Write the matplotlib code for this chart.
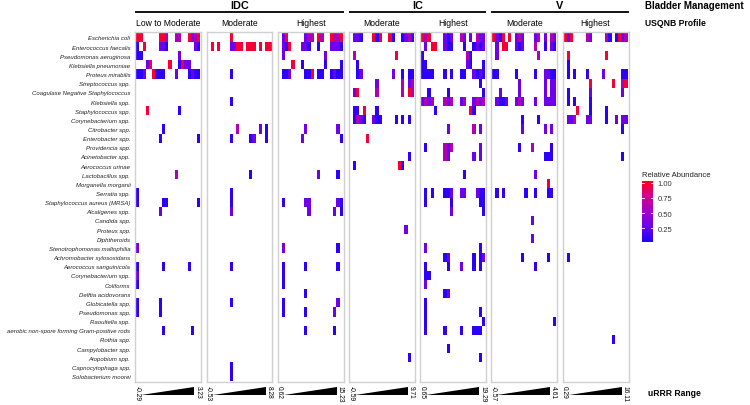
import numpy as np
import matplotlib
matplotlib.use("Agg")
import matplotlib.pyplot as plt
from matplotlib.colors import LinearSegmentedColormap, Normalize
from matplotlib.patches import Polygon

plt.rcParams['font.family'] = ['Liberation Sans', 'DejaVu Sans']

# organisms (rows, top to bottom)
species = [
    "Escherichia coli", "Enterococcus faecalis", "Pseudomonas aeruginosa",
    "Klebsiella pneumoniae", "Proteus mirabilis", "Streptococcus spp.",
    "Coagulase Negative Staphylococcus", "Klebsiella spp.", "Staphylococcus spp.",
    "Corynebacterium spp.", "Citrobacter spp.", "Enterobacter spp.",
    "Providencia spp.", "Acinetobacter spp.", "Aerococcus urinae",
    "Lactobacillus spp.", "Morganella morganii", "Serratia spp.",
    "Staphylococcus aureus (MRSA)", "Alcaligenes spp.", "Candida spp.",
    "Proteus spp.", "Diphtheroids", "Stenotrophomonas maltophilia",
    "Achromobacter xylosoxidans", "Aerococcus sanguinicola", "Corynebacterium spp.",
    "Coliforms", "Delftia acidovorans", "Globicatella spp.", "Pseudomonas spp.",
    "Raoultella spp.", "aerobic non-spore forming Gram-positive rods",
    "Rothia spp.", "Campylobacter spp.", "Atopobium spp.",
    "Capnocytophaga spp.", "Solobacterium moorei",
]

groups = ["IDC", "IC", "V"]
group_panels = [[0, 1, 2], [3, 4], [5, 6]]
profiles = ["Low to Moderate", "Moderate", "Highest", "Moderate", "Highest", "Moderate", "Highest"]
range_low = ["-0.29", "-0.53", "0.62", "-0.59", "0.65", "-0.57", "0.29"]
range_high = ["3.23", "8.28", "15.23", "9.71", "19.29", "4.61", "16.11"]

# relative abundance: b blue, p violet, m magenta, r red
levels = {"b": 0.08, "p": 0.3, "m": 0.6, "r": 0.97}
n_samples = 20

idc_low = {
    0: "rr.....rrm..mm..rpmr", 1: "b.r....ppb........pb", 2: "bb...........p......",
    3: "...pr.....r..brpp...", 4: "bbp..rbbb...p...bpbb", 8: "...r.........b......",
    10: "........b...........", 11: ".......b...........b", 15: "............m.......",
    17: "b...................", 18: "b.......bb.........b", 19: ".......p............",
    23: "p...................", 25: "b.......b.......b...", 26: "p...................",
    27: "b...................", 29: "b......b............", 30: "b......b............",
    32: "........b........b..",
}
idc_mod = {
    0: ".......r............", 1: ".r.r...pprr.rrr.r.rr", 4: ".......b............",
    7: ".......b............", 10: ".........m......p.b.", 11: ".......b.....bp...b.",
    15: ".............b......", 17: ".......b............", 18: ".......b............",
    19: ".......p............", 25: ".......b............", 29: ".......b............",
    36: ".......b............", 37: ".......b............",
}
idc_high = {
    0: ".pr.....pmm.rm..rmmr", 1: ".pbr...ppb..b...pppb", 2: ".p............p.....",
    3: "....r..b......b....b", 4: ".bbp....bbr.bb..bpbb", 10: "........p.........p.",
    11: ".......p...........b", 15: "............p.....b.", 18: ".b......pp........pb",
    19: ".........p.......p.b", 23: ".p................b.", 25: ".b......b.........b.",
    26: ".b..................", 27: ".b..................", 28: "........b...........",
    29: ".b................p.", 30: ".b......b........p..", 32: "........b........b..",
}
ic_mod = {
    0: ".ppb...rbr..rb..bpmb", 2: ".m............r.....", 3: "..b.................",
    4: "..bp.........p..b.bb", 5: "........p.......m.pm", 6: ".pr.....m.......m.rm",
    8: ".bb.r...b...........", 9: ".bmpb..pbb....b.b.b.", 11: ".....r..............",
    13: "..................b.", 14: ".b.............rb...", 21: ".................p..",
    35: "..................b.",
}
ic_high = {
    0: "rmr....pbp..mp.p.mpp", 1: ".p.rr..pbb...b..bpbp", 2: "b.............mb....",
    3: "bb............pb...b", 4: "bbbb...b.b..bb..pbpb", 5: "..................b.",
    6: "..b.....b..........b", 7: "pmpm...mpm..pm..pmpm", 8: "....b..........rb...",
    10: "........p.......m.p.", 12: ".b.....mpm........p.", 13: ".......mp.......p.p.",
    15: ".............b......", 17: ".b.b...bbp..pp...pbb", 18: ".b.......b........bb",
    19: ".........p.........b", 23: ".p................b.", 24: ".......bp.......b.bp",
    25: ".b......b...p...b.b.", 26: ".bb.................", 27: ".p..................",
    28: ".......bp...........", 29: ".b..................", 30: ".b................b.",
    31: ".b.................b", 32: ".b.....b....b...bbb.", 34: "........b...........",
    35: "..................b.",
}
v_mod = {
    0: "rpbr.r.pmp...pm.p.mp", 1: ".p.rr..pbp...m..b.pb", 2: ".p............m.....",
    4: "bb.....b.....b..ppbb", 5: "........p.......p.pp", 6: "..p.....p.......p.pp",
    7: ".pbbp..pmp...p..pppp", 9: ".........b....b.....", 10: ".........p......p.p.",
    12: "........b...m.....b.", 13: "................bbb.", 15: ".............p......",
    16: ".................r..", 17: ".b.b......b..b...bb.", 20: "............p.......",
    22: "............p.......", 24: ".........b.......b..", 25: ".............b......",
    31: "...................b",
}
v_high = {
    0: "rpr....mp....mb.brpm", 2: ".r...........r......", 3: ".b..................",
    4: ".b.b...b....p.....bb", 5: "........r......r..mr", 6: ".b......p.........p.",
    7: ".b.b....b...........", 8: "....r...b....b......", 9: ".ppm...pp....b..p.pp",
    10: "..................b.", 13: "..................b.", 24: ".b..................",
    33: "...............b....",
}
panels = [idc_low, idc_mod, idc_high, ic_mod, ic_high, v_mod, v_high]


def to_matrix(cells):
    m = np.full((len(species), n_samples), np.nan)
    for row, s in cells.items():
        for col, ch in enumerate(s.ljust(n_samples)[:n_samples]):
            if ch in levels:
                m[row, col] = levels[ch]
    return m


cmap = LinearSegmentedColormap.from_list(
    "abund", ["#1a00ff", "#6a00f0", "#a000c8", "#d2008e", "#ff0018"])
norm = Normalize(vmin=0.02, vmax=1.03)

W, H = 750, 406
fig = plt.figure(figsize=(W / 100, H / 100), dpi=100)


def px_axes(x0, y0, x1, y1):
    return fig.add_axes([x0 / W, 1 - y1 / H, (x1 - x0) / W, (y1 - y0) / H])


top, bottom = 32.5, 383.0
lefts = [135.3 + 71.2 * k for k in range(7)]
pw = 66.0
mesh = None
for k, cells in enumerate(panels):
    ax = px_axes(lefts[k], top, lefts[k] + pw, bottom)
    mat = to_matrix(cells)
    mesh = ax.pcolormesh(np.arange(n_samples + 1) - 0.5, np.arange(len(species) + 1) - 0.5,
                         mat, cmap=cmap, norm=norm)
    ax.set_xlim(-0.8, n_samples - 0.2)
    ax.set_ylim(len(species) - 0.35, -0.65)
    ax.set_xticks([])
    for sp in ax.spines.values():
        sp.set_color("#d0d0d0")
        sp.set_linewidth(1.0)
    if k == 0:
        ax.set_yticks(range(len(species)))
        ax.set_yticklabels(species, fontsize=4.3, style="italic", color="#222222")
        ax.tick_params(axis="y", length=0, pad=3.5)
    else:
        ax.set_yticks([])

# colour bar
cax = px_axes(641.7, 181.7, 653.3, 243.3)
cb = fig.colorbar(mesh, cax=cax, ticks=[0.25, 0.5, 0.75, 1.0])
cb.outline.set_visible(False)
cb.ax.set_yticklabels(["0.25", "0.50", "0.75", "1.00"])
cb.ax.tick_params(length=0, labelsize=5.5, pad=3, colors="#333333")
for v in [0.25, 0.5, 0.75, 1.0]:
    cax.axhline(v, 0, 0.2, color="white", lw=0.6)
    cax.axhline(v, 0.8, 1, color="white", lw=0.6)

# overlay in pixel coordinates for headers and range wedges
ov = fig.add_axes([0, 0, 1, 1])
ov.set_xlim(0, W)
ov.set_ylim(H, 0)
ov.axis("off")
ov.patch.set_alpha(0)

for g, name in enumerate(groups):
    x0 = lefts[group_panels[g][0]]
    x1 = lefts[group_panels[g][-1]] + pw
    ov.text((x0 + x1) / 2, 6, name, ha="center", va="center", fontsize=7.8, fontweight="bold")
    ov.plot([x0, x1], [13.3, 13.3], color="black", lw=1.3, solid_capstyle="butt")

for k in range(7):
    L, R = lefts[k], lefts[k] + pw
    ov.text((L + R) / 2, 23.3, profiles[k], ha="center", va="center", fontsize=6.2)
    ov.add_patch(Polygon([(L + 6, 396), (R - 7, 396), (R - 7, 387.5)],
                         closed=True, color="black", lw=0))
    ov.text(L + 2, 386.5, range_low[k], rotation=-90, ha="center", va="top", fontsize=4.8)
    ov.text(R - 3.5, 386.5, range_high[k], rotation=-90, ha="center", va="top", fontsize=4.8)

ov.text(645, 6, "Bladder Management", ha="left", va="center", fontsize=7, fontweight="bold")
ov.text(645, 23.5, "USQNB Profile", ha="left", va="center", fontsize=6.2, fontweight="bold")
ov.text(648, 394, "uRRR Range", ha="left", va="center", fontsize=6.2, fontweight="bold")
ov.text(641.7, 176, "Relative Abundance", ha="left", va="center", fontsize=5.5, color="#222222")

fig.savefig("out.png", dpi=100)
